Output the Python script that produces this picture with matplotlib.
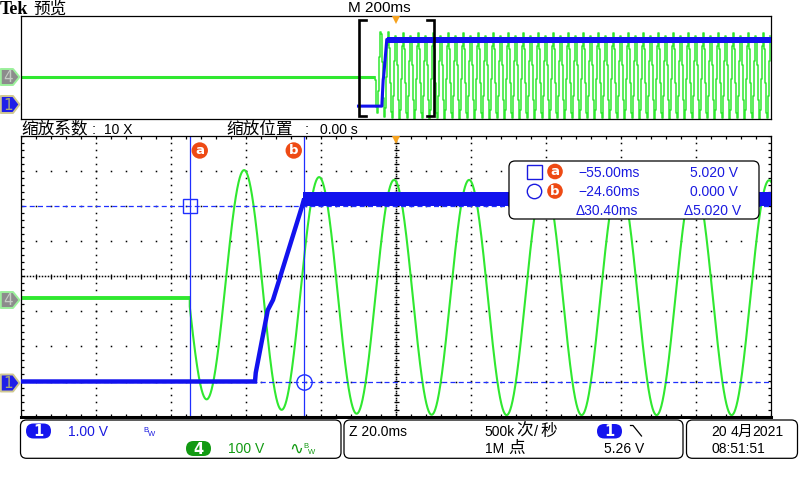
import numpy as np
import matplotlib
matplotlib.use("Agg")
import matplotlib.pyplot as plt
from matplotlib.patches import FancyBboxPatch, Polygon, Circle
import matplotlib.transforms as mtransforms

plt.rcParams['font.family'] = ['Liberation Sans', 'DejaVu Sans', 'Noto Sans CJK SC']

# ----------------------------- data -----------------------------
main_time_ms = [-100.0, 100.0]        # 20 ms/div, 10 div
overview_time_ms = [-1000.0, 1000.0]  # 200 ms/div
zoom_window_ms = [-100.0, 100.0]
trigger_time_ms = 0.0

# channel 1 (blue, volts)
ch1_t = [-100.0, -37.6, -37.4, -34.2, -32.8, -25.1, -24.6, 100.0]
ch1_v = [0.00, 0.00, 0.25, 2.04, 2.33, 4.99, 5.18, 5.18]
ch1_band_t = [-24.8, 100.0]
ch1_band_lo = [5.00, 5.00]
ch1_band_hi = [5.40, 5.40]

# channel 4 (green, volts): flat, then 50 Hz wave given by its extremes
ch4_flat_t = [-100.0, -55.0]
ch4_flat_v = [0.0, 0.0]
ch4_start_ms = -55.0
ch4_ext_t = [-60.5, -50.5, -40.5, -30.5, -20.5, -10.5, -0.5, 9.5, 19.5,
             29.5, 39.5, 49.5, 59.5, 69.5, 79.5, 89.5, 99.5, 109.5]
ch4_ext_v = [340, -289, 366, -319, 346, -330, 338, -333, 338,
             -334, 337, -334, 337, -334, 337, -334, 337, -334]
ch4_steady_peak = 337.0
ch4_steady_trough = -334.0
ch4_half_period_ms = 10.0

# cursors
cursor_a_t, cursor_a_v = -55.00, 5.020
cursor_b_t, cursor_b_v = -24.60, 0.000

# labels
ch1_scale_text = "1.00 V"
ch4_scale_text = "100 V"
overview_base_text = "M 200ms"
zoom_base_text = "Z 20.0ms"
zoom_factor_text = "10 X"
zoom_pos_text = "0.00 s"
rate_text = "500k"
points_text = "1M"
trig_level_text = "5.26 V"
date_day_text = "20"
date_month_text = "4"
date_year_text = "2021"
time_text = "08:51:51"

# ----------------------------- style -----------------------------
W, H = 800, 480
BLUE = '#1212ee'
GREEN = '#30e830'
CUR = '#1f2fff'
TXTB = '#1a1ae0'
TXTG = '#119a11'
ORANGE = '#ee4a14'
TRIG = '#f6a21e'
CJK = 'Noto Sans CJK SC'

CH1_VDIV, CH4_VDIV = 1.0, 100.0
CH1_POS, CH4_POS, CH4_POS_OV = -3.0, -0.62, -0.72

MAIN_PX = (21, 136.5, 771, 416.5)
OVER_PX = (21, 16, 771, 119)


def frac_rect(x0, y0, x1, y1):
    return [x0 / W, 1 - y1 / H, (x1 - x0) / W, (y1 - y0) / H]


def ylim_for(pos, vdiv):
    return ((-4 - pos) * vdiv, (4 - pos) * vdiv)


def half_cosine_wave(ext_t, ext_v, t):
    ext_t = np.asarray(ext_t, float)
    ext_v = np.asarray(ext_v, float)
    i = np.clip(np.searchsorted(ext_t, t, side='right') - 1, 0, len(ext_t) - 2)
    t0, t1 = ext_t[i], ext_t[i + 1]
    v0, v1 = ext_v[i], ext_v[i + 1]
    ph = np.clip((t - t0) / (t1 - t0), 0, 1)
    return 0.5 * (v0 + v1) + 0.5 * (v0 - v1) * np.cos(np.pi * ph)


def t_to_px(t):
    return MAIN_PX[0] + (t - main_time_ms[0]) / (main_time_ms[1] - main_time_ms[0]) * (MAIN_PX[2] - MAIN_PX[0])


fig = plt.figure(figsize=(W / 100, H / 100), dpi=100)
fig.patch.set_facecolor('white')

# ----------------------------- main grid -----------------------------
axg = fig.add_axes(frac_rect(*MAIN_PX))
axg.set_xlim(main_time_ms)
axg.set_ylim(-4, 4)
axg.axis('off')
dot = dict(ls='none', marker='s', ms=1.1, mew=0, color='#000000')
xs_fine = np.arange(-100, 100.001, 4.0)
ys_fine = np.arange(-4, 4.001, 0.2)
gx, gy = [], []
for xv in np.arange(-80, 81, 20):
    if xv == 0:
        continue
    gx += [xv] * len(ys_fine)
    gy += list(ys_fine)
for yv in np.arange(-3, 3.1, 1):
    if yv == 0:
        continue
    gx += list(xs_fine)
    gy += [yv] * len(xs_fine)
axg.plot(gx, gy, **dot)
xc = np.arange(-100, 100.001, 0.8)
axg.plot(xc, np.zeros_like(xc), **dot)
yc = np.arange(-4, 4.001, 1 / 15)
axg.plot(np.zeros_like(yc), yc, **dot)
tick = dict(ls='none', color='#000000', mew=0.9)
axg.plot(xs_fine, np.zeros_like(xs_fine), marker='|', ms=3.6, **tick)
axg.plot(np.zeros_like(ys_fine), ys_fine, marker='_', ms=3.6, **tick)
axg.plot(np.full_like(ys_fine, -100), ys_fine, marker='_', ms=4, **tick)
axg.plot(np.full_like(ys_fine, 100), ys_fine, marker='_', ms=4, **tick)
axg.plot(xs_fine, np.full_like(xs_fine, 4), marker='|', ms=4, **tick)
axg.plot(xs_fine, np.full_like(xs_fine, -4), marker='|', ms=4, **tick)

# ----------------------------- main ch4 (green) -----------------------------
ax4 = fig.add_axes(frac_rect(*MAIN_PX))
ax4.set_xlim(main_time_ms)
ax4.set_ylim(*ylim_for(CH4_POS, CH4_VDIV))
ax4.axis('off')
ax4.patch.set_visible(False)
ax4.plot(ch4_flat_t, ch4_flat_v, color=GREEN, lw=2.8, solid_capstyle='butt')
t_main = np.linspace(ch4_start_ms, main_time_ms[1], 4000)
v_main = half_cosine_wave(ch4_ext_t, ch4_ext_v, t_main)
ax4.plot(np.r_[ch4_start_ms, t_main], np.r_[ch4_flat_v[-1], v_main], color=GREEN, lw=1.5)

# ----------------------------- main ch1 (blue) + cursors -----------------------------
ax1 = fig.add_axes(frac_rect(*MAIN_PX))
ax1.set_xlim(main_time_ms)
ax1.set_ylim(*ylim_for(CH1_POS, CH1_VDIV))
ax1.patch.set_visible(False)
ax1.set_xticks([])
ax1.set_yticks([])
for s in ax1.spines.values():
    s.set_linewidth(0.9)
    s.set_color('black')
ax1.spines['bottom'].set_linewidth(2.2)

ax1.axvline(cursor_a_t, color=CUR, lw=0.9, zorder=1)
ax1.axvline(cursor_b_t, color=CUR, lw=0.9, zorder=1)
ax1.axhline(cursor_a_v, color=CUR, lw=0.9, dashes=(4, 2.6), zorder=1)
ax1.axhline(cursor_b_v, color=CUR, lw=0.9, dashes=(4, 2.6), zorder=1)

ax1.plot(ch1_t, ch1_v, color=BLUE, lw=3.2, zorder=3, solid_joinstyle='miter')
ax1.fill_between(ch1_band_t, ch1_band_lo, ch1_band_hi, color=BLUE, lw=0, zorder=3)

ax1.plot(cursor_a_t, cursor_a_v, marker='s', ms=10, mfc='none', mec=CUR, mew=1.0, zorder=4)
ax1.plot(cursor_b_t, cursor_b_v, marker='o', ms=11, mfc='none', mec=CUR, mew=1.0, zorder=4)

trans1 = mtransforms.blended_transform_factory(ax1.transData, ax1.transAxes)
ax1.plot(trigger_time_ms, 0.989, transform=trans1, marker='v', ms=6, color=TRIG,
         mew=0, clip_on=False, zorder=5)

# ----------------------------- overview -----------------------------
axo4 = fig.add_axes(frac_rect(*OVER_PX))
axo4.set_xlim(overview_time_ms)
axo4.set_ylim(*ylim_for(CH4_POS_OV, CH4_VDIV))
axo4.axis('off')
axo4.patch.set_visible(False)
axo4.plot([overview_time_ms[0], ch4_start_ms], ch4_flat_v, color=GREEN, lw=2.2, solid_capstyle='butt')
ov_ext_t = list(ch4_ext_t)
ov_ext_v = list(ch4_ext_v)
while ov_ext_t[-1] < overview_time_ms[1] + ch4_half_period_ms:
    ov_ext_t.append(ov_ext_t[-1] + ch4_half_period_ms)
    ov_ext_v.append(ch4_steady_peak if ov_ext_v[-1] < 0 else ch4_steady_trough)
px_ms = (overview_time_ms[1] - overview_time_ms[0]) / (OVER_PX[2] - OVER_PX[0])
t_ov = np.arange(ch4_start_ms, overview_time_ms[1], px_ms)
v_ov = half_cosine_wave(ov_ext_t, ov_ext_v, t_ov)
axo4.plot(np.r_[ch4_start_ms, t_ov], np.r_[0.0, v_ov], color=GREEN, lw=1.1, drawstyle='steps-mid')

axo1 = fig.add_axes(frac_rect(*OVER_PX))
axo1.set_xlim(overview_time_ms)
axo1.set_ylim(*ylim_for(CH1_POS, CH1_VDIV))
axo1.patch.set_visible(False)
axo1.set_xticks([])
axo1.set_yticks([])
for s in axo1.spines.values():
    s.set_linewidth(0.9)
    s.set_color('black')
ov_ch1_t = ch1_t[:-1] + [overview_time_ms[1]]
axo1.plot(ov_ch1_t, ch1_v, color=BLUE, lw=2.2, zorder=3)
axo1.fill_between([ch1_band_t[0], overview_time_ms[1]], [4.92, 4.92], [5.36, 5.36],
                  color=BLUE, lw=0, zorder=3)
transo = mtransforms.blended_transform_factory(axo1.transData, axo1.transAxes)
serif = 7 * px_ms
yb_top, yb_bot = (OVER_PX[3] - 20) / 103, (OVER_PX[3] - 116) / 103
axo1.plot([zoom_window_ms[0] + serif, zoom_window_ms[0], zoom_window_ms[0], zoom_window_ms[0] + serif],
          [yb_top, yb_top, yb_bot, yb_bot], transform=transo, color='black', lw=1.9,
          solid_joinstyle='miter', zorder=6)
axo1.plot([zoom_window_ms[1] - serif, zoom_window_ms[1], zoom_window_ms[1], zoom_window_ms[1] - serif],
          [yb_top, yb_top, yb_bot, yb_bot], transform=transo, color='black', lw=1.9,
          solid_joinstyle='miter', zorder=6)
axo1.plot(trigger_time_ms, 0.961, transform=transo, marker='v', ms=6, color=TRIG,
          mew=0, clip_on=False, zorder=7)

# ----------------------------- overlay (pixel coords) -----------------------------
ov = fig.add_axes([0, 0, 1, 1])
ov.set_xlim(0, W)
ov.set_ylim(H, 0)
ov.axis('off')
ov.patch.set_visible(False)
ov.set_zorder(10)


def txt(x, y, s, size=10, color='black', family=None, **kw):
    d = dict(fontsize=size, color=color, va='baseline', ha='left')
    if family:
        d['family'] = family
    d.update(kw)
    ov.text(x, y, s, **d)


def tag(yc, label, fc, ec, tc, h=16):
    pts = [(0.8, yc - h / 2), (13, yc - h / 2), (19.5, yc), (13, yc + h / 2), (0.8, yc + h / 2)]
    ov.add_patch(Polygon(pts, closed=True, fc=fc, ec=ec, lw=1.4, joinstyle='round'))
    ov.text(8.5, yc + 0.5, label, fontsize=11, color=tc, ha='center', va='center',
            family='DejaVu Sans')


def pill(x0, y0, x1, y1, fc, label):
    h = y1 - y0
    ov.add_patch(FancyBboxPatch((x0, y0), x1 - x0, h,
                                boxstyle=f"round,pad=0,rounding_size={h / 2}",
                                fc=fc, ec='none'))
    ov.text((x0 + x1) / 2, (y0 + y1) / 2 + 0.5, label, fontsize=10.5, color='white',
            ha='center', va='center', fontweight='bold', family='DejaVu Sans')


def rbox(x0, y0, x1, y1, r=6):
    ov.add_patch(FancyBboxPatch((x0, y0), x1 - x0, y1 - y0,
                                boxstyle=f"round,pad=0,rounding_size={r}",
                                fc='white', ec='black', lw=0.9))


def badge(xc, yc, label, r=8.2):
    ov.add_patch(Circle((xc, yc), r, fc=ORANGE, ec='none'))
    ov.text(xc, yc + 0.3, label, fontsize=9.5, color='white', ha='center', va='center',
            fontweight='bold', family='DejaVu Sans')


# header
txt(0, 14, "Tek", size=13, family='Liberation Serif', fontweight='bold')
txt(33, 13.5, "预览", size=12, family=CJK)
txt(348, 12, overview_base_text, size=11)

txt(21.5, 133.5, "缩放系数", size=12, family=CJK)
txt(92, 133.5, ":", size=10.5)
txt(103.5, 133.5, zoom_factor_text, size=10)
txt(226.5, 133.5, "缩放位置", size=12, family=CJK)
txt(305, 133.5, ":", size=10.5)
txt(320, 133.5, zoom_pos_text, size=10)

# channel tags
tag(77, "4", '#8c8c8c', '#9cf09c', '#c4ccc4')
tag(104.5, "1", '#1f1fe8', '#d0c890', '#a8a878', h=17)
tag(300, "4", '#8c8c8c', '#9cf09c', '#c4ccc4')
tag(383, "1", '#1f1fe8', '#d0c890', '#a8a878', h=17)

# cursor badges on top of main
badge(t_to_px(cursor_a_t) + 10, 150.5, "a")
badge(t_to_px(cursor_b_t) - 10, 150.5, "b")

# cursor readout box
rbox(509, 161, 759, 219, r=6)
ov.add_patch(plt.Rectangle((527, 165), 14.5, 13.5, fc='none', ec=TXTB, lw=1.0))
badge(555, 171.5, "a", r=7.8)
ov.add_patch(Circle((534.5, 191.5), 7.2, fc='none', ec=TXTB, lw=1.0))
badge(555, 191, "b", r=7.8)
txt(578, 176.7, f"\u2212{abs(cursor_a_t):.2f}ms", color=TXTB)
txt(690, 176.7, f"{cursor_a_v:.3f} V", color=TXTB)
txt(578, 196, f"\u2212{abs(cursor_b_t):.2f}ms", color=TXTB)
txt(690, 196, f"{cursor_b_v:.3f} V", color=TXTB)
txt(576, 215, f"\u0394{abs(cursor_b_t - cursor_a_t):.2f}ms", color=TXTB)
txt(684.5, 215, f"\u0394{abs(cursor_a_v - cursor_b_v):.3f} V", color=TXTB)

# bottom info boxes
rbox(20.5, 420, 341, 458.3)
rbox(344, 420, 683, 458.3)
rbox(686.5, 420, 797.5, 458.3)

pill(26, 423.5, 51, 438.5, '#1515ee', "1")
txt(68, 435.7, ch1_scale_text, color=TXTB)
txt(143.5, 432, "B", size=5.5, color=TXTB)
txt(148.3, 436.5, "W", size=5.5, color=TXTB)

pill(186, 441, 211, 456, '#129a12', "4")
txt(228, 453.3, ch4_scale_text, color=TXTG)
txt(289.5, 453.5, "\u223f", size=12, color=TXTG, family='DejaVu Sans')
txt(303, 448.5, "B", size=5.5, color=TXTG)
txt(308, 453.5, "W", size=5.5, color=TXTG)

txt(349, 436, zoom_base_text)
txt(484, 436, rate_text)
txt(516, 436, "次", size=12, family=CJK)
txt(533.5, 436, "/", size=10.5)
txt(540.5, 436, "秒", size=12, family=CJK)
txt(485, 453, points_text)
txt(508, 453, "点", size=12, family=CJK)
pill(597, 424, 622, 438.5, '#1515ee', "1")
ov.plot([630.5, 633, 641.5], [425.5, 425.5, 436], color='black', lw=0.9)
txt(604.5, 453, trig_level_text)

txt(711.5, 436, date_day_text)
txt(730.5, 436, date_month_text)
txt(737.5, 436, "月", size=10.5, family=CJK)
txt(752, 436, date_year_text)
txt(711.5, 453, time_text)

fig.savefig("out.png", dpi=100, facecolor='white')
